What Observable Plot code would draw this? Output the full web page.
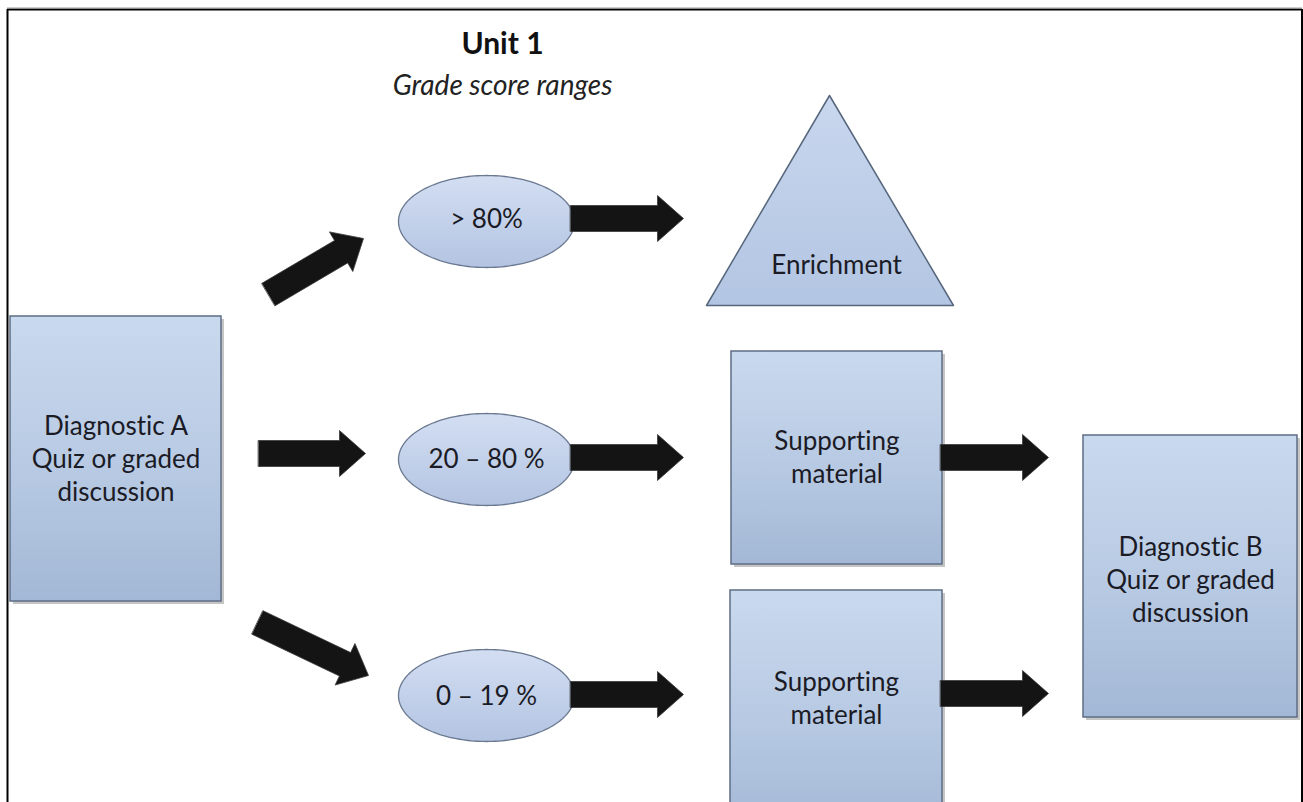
<!DOCTYPE html>
<html>
<head>
<meta charset="utf-8">
<script src="https://cdn.jsdelivr.net/npm/d3@7"></script>
<script src="https://cdn.jsdelivr.net/npm/@observablehq/plot@0.6"></script>
<style>
  html, body { margin: 0; padding: 0; background: #ffffff; }
  #chart svg { display: block; }
  #chart svg text { font-variant-ligatures: none; font-feature-settings: "liga" 0, "dlig" 0; }
</style>
</head>
<body>
<div id="chart"></div>
<script>
// ---------- data (labels) ----------
const title = "Unit 1";
const subtitle = "Grade score ranges";
const sourceLabel = "Diagnostic A\nQuiz or graded\ndiscussion";
const gradeRanges = ["> 80%", "20 \u2013 80 %", "0 \u2013 19 %"];
const outcomes = ["Enrichment", "Supporting\nmaterial", "Supporting\nmaterial"];
const outcomeShapes = ["triangle", "box", "box"];
const targetLabel = "Diagnostic B\nQuiz or graded\ndiscussion";

// ---------- layout (diagram geometry, in pixel units of the 1303x802 canvas) ----------
const W = 1303, H = 802;
const layout = {
  source: {x1: 10, x2: 221, y1: 316, y2: 601, ty: 457},
  rangeCx: 486, rangeRx: 88, rangeRy: 46, rangeCy: [221, 459, 695], rangeTy: [219, 459, 696],
  outcomeBoxes: [null, {x1: 731, x2: 942, y1: 351, y2: 564, ty: 455}, {x1: 730, x2: 942, y1: 590, y2: 830, ty: 696}],
  triangle: {apex: [829, 95], left: [706, 305], right: [953, 305], tx: 836, ty: 265},
  target: {x1: 1083, x2: 1297, y1: 435, y2: 717, ty: 578},
  arrowsIn: [[[268, 294], [363, 238]], [[258, 453], [365, 453]], [[257, 622], [368, 675]]],
  arrowsMid: [[[570, 218], [683, 218]], [[570, 457], [683, 457]], [[570, 694], [683, 694]]],
  arrowsOut: [[[940, 457], [1048, 457]], [[940, 693], [1048, 693]]],
  title: [502, 44], subtitle: [502, 86]
};

// ---------- helpers producing shape outlines ----------
function arrowPolygon(id, [x0, y0], [x1, y1], w = 13, h = 23, L = 26) {
  const dx = x1 - x0, dy = y1 - y0, len = Math.hypot(dx, dy);
  const ux = dx / len, uy = dy / len, nx = -uy, ny = ux;
  const bx = x1 - ux * L, by = y1 - uy * L;
  return [
    [x0 + nx * w, y0 + ny * w], [bx + nx * w, by + ny * w], [bx + nx * h, by + ny * h],
    [x1, y1],
    [bx - nx * h, by - ny * h], [bx - nx * w, by - ny * w], [x0 - nx * w, y0 - ny * w]
  ].map(([x, y]) => ({id, x, y}));
}
function ellipsePolygon(id, cx, cy, rx, ry) {
  return d3.range(0, 360, 2).map(a => {
    const t = a * Math.PI / 180;
    return {id, x: cx + rx * Math.cos(t), y: cy + ry * Math.sin(t)};
  });
}

const boxes = [
  {label: sourceLabel, ...layout.source},
  ...outcomes.map((o, i) => outcomeShapes[i] === "box" ? {label: o, ...layout.outcomeBoxes[i]} : null).filter(Boolean),
  {label: targetLabel, ...layout.target}
];
const boxTexts = boxes.map(b => ({label: b.label, x: (b.x1 + b.x2) / 2, y: b.ty}));

const ellipses = gradeRanges.flatMap((g, i) => ellipsePolygon("e" + i, layout.rangeCx, layout.rangeCy[i], layout.rangeRx, layout.rangeRy));
const rangeTexts = gradeRanges.map((g, i) => ({label: g, x: layout.rangeCx, y: layout.rangeTy[i]}));

const tri = layout.triangle;
const triangles = outcomeShapes.includes("triangle")
  ? [tri.apex, tri.left, tri.right].map(([x, y]) => ({id: "t", x, y})) : [];
const outcomeTexts = outcomes.map((o, i) => outcomeShapes[i] === "triangle" ? {label: o, x: tri.tx, y: tri.ty} : null).filter(Boolean);

const arrows = [
  ...layout.arrowsIn.map((a, i) => arrowPolygon("in" + i, a[0], a[1])),
  ...layout.arrowsMid.map((a, i) => arrowPolygon("mid" + i, a[0], a[1])),
  ...layout.arrowsOut.map((a, i) => arrowPolygon("out" + i, a[0], a[1]))
].flat();

const FONT = "Lato, 'Open Sans', sans-serif";
const TEXT = "#1b1b26";

const svg = Plot.plot({
  width: W, height: H, margin: 0,
  x: {domain: [0, W], range: [0, W], axis: null},
  y: {domain: [0, H], range: [0, H], axis: null},
  style: {background: "#ffffff", overflow: "hidden"},
  marks: [
    // frame
    Plot.ruleY([9], {x1: 7, x2: 1302, stroke: "#000", strokeWidth: 2}),
    Plot.ruleY([7.5], {x1: 7, x2: 1302, stroke: "#9a9a9a", strokeWidth: 1}),
    Plot.ruleX([7], {y1: 9, y2: H, stroke: "#000", strokeWidth: 2}),
    Plot.ruleX([1301.5], {y1: 9, y2: H, stroke: "#000", strokeWidth: 2}),
    // box shadows
    Plot.rect(boxes, {x1: d => d.x1 + 3, x2: d => d.x2 + 3, y1: d => d.y1 + 3, y2: d => d.y2 + 3, fill: "#8c8c8c", fillOpacity: 0.5}),
    // boxes
    Plot.rect(boxes, {x1: "x1", x2: "x2", y1: "y1", y2: "y2", fill: "url(#boxGrad)", stroke: "#5d6d84", strokeWidth: 1.5}),
    // triangle
    Plot.line(triangles, {x: "x", y: "y", z: "id", curve: "linear-closed", fill: "url(#triGrad)", stroke: "#56667c", strokeWidth: 1.5}),
    // ellipses
    Plot.line(ellipses, {x: "x", y: "y", z: "id", curve: "linear-closed", fill: "url(#ellGrad)", stroke: "#6a7890", strokeWidth: 1.3}),
    // arrows
    Plot.line(arrows, {x: "x", y: "y", z: "id", curve: "linear-closed", fill: "#141414", stroke: "#3a3a3a", strokeWidth: 0.8}),
    // labels
    Plot.text(boxTexts, {x: "x", y: "y", text: "label", fontSize: 26, lineHeight: 1.27, fill: TEXT, fontFamily: FONT}),
    Plot.text(rangeTexts, {x: "x", y: "y", text: "label", fontSize: 26, fill: TEXT, fontFamily: FONT}),
    Plot.text(outcomeTexts, {x: "x", y: "y", text: "label", fontSize: 26, fill: TEXT, fontFamily: FONT}),
    Plot.text([title], {x: layout.title[0], y: layout.title[1], text: d => d, fontSize: 30, fontWeight: "bold", fill: "#111", fontFamily: FONT}),
    Plot.text([subtitle], {x: layout.subtitle[0], y: layout.subtitle[1], text: d => d, fontSize: 28, fontStyle: "italic", fill: "#222", fontFamily: FONT})
  ]
});

// gradients
const defs = d3.select(svg).insert("defs", ":first-child");
function grad(id, stops) {
  const g = defs.append("linearGradient").attr("id", id).attr("x1", 0).attr("y1", 0).attr("x2", 0).attr("y2", 1);
  stops.forEach(([o, c]) => g.append("stop").attr("offset", o).attr("stop-color", c));
}
grad("boxGrad", [[0, "#c9d9ee"], [0.5, "#b9cbe4"], [1, "#a3b8d6"]]);
grad("ellGrad", [[0, "#d3def2"], [1, "#b3c4e2"]]);
grad("triGrad", [[0, "#c9d7ee"], [1, "#b2c5e2"]]);

document.getElementById("chart").appendChild(svg);
</script>
</body>
</html>
